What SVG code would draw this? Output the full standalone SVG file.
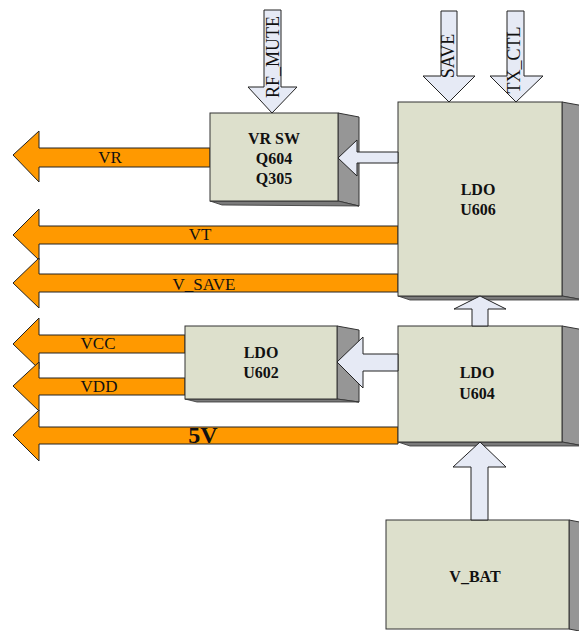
<svg xmlns="http://www.w3.org/2000/svg" width="579" height="631" viewBox="0 0 579 631">
<style>
.front{fill:#DDE0CC;stroke:#333;stroke-width:1}
.side{fill:#969696;stroke:#333;stroke-width:1}
.bot{fill:#7a7a7a;stroke:#333;stroke-width:0.8}
.out{fill:#FF9900;stroke:#222;stroke-width:1}
.ctl{fill:#E6EAF5;stroke:#222;stroke-width:1}
.lb{font-family:"Liberation Serif","Times New Roman",serif;font-weight:bold;font-size:16px;fill:#111;text-anchor:middle}
.sig{font-family:"Liberation Serif","Times New Roman",serif;font-size:17px;fill:#111;text-anchor:middle}
.rot{font-family:"Liberation Serif","Times New Roman",serif;font-size:18px;fill:#111;text-anchor:middle}
</style>
<rect width="579" height="631" fill="#fff"/>
<g id="outputs">
<polygon class="out" points="13,155 39,131 39,148 210,148 210,167 39,167 39,182"/>
<polygon class="out" points="13,235 39,209 39,226 398,226 398,244 39,244 39,260"/>
<polygon class="out" points="13,283 39,258 39,274 398,274 398,292 39,292 39,308"/>
<polygon class="out" points="13,344 39,318 39,335 185,335 185,353 39,353 39,369"/>
<polygon class="out" points="13,386 39,362 39,378 185,378 185,395 39,395 39,411"/>
<polygon class="out" points="13,435 39,410 39,427 398,427 398,444 39,444 39,461"/>
<text class="sig" x="110" y="163">VR</text>
<text class="sig" x="200" y="240">VT</text>
<text class="sig" x="204" y="290">V_SAVE</text>
<text class="sig" x="98" y="349">VCC</text>
<text class="sig" x="99" y="392">VDD</text>
<text class="lb" x="203" y="443" style="font-size:24px">5V</text>
</g>
<g id="vrsw">
<polygon class="side" points="338,113 359,117 359,206 338,201"/>
<polygon class="bot" points="210,201 338,201 359,206 222,205"/>
<rect class="front" x="210" y="113" width="128" height="88"/>
<text class="lb" x="274" y="144">VR SW</text>
<text class="lb" x="274" y="164">Q604</text>
<text class="lb" x="274" y="184">Q305</text>
</g>
<g id="u606">
<polygon class="side" points="562,102 584,106 584,300 562,296"/>
<polygon class="bot" points="398,296 562,296 584,300 410,300"/>
<rect class="front" x="398" y="102" width="164" height="194"/>
<text class="lb" x="478" y="195">LDO</text>
<text class="lb" x="478" y="215">U606</text>
</g>
<g id="u602">
<polygon class="side" points="337,326 359,330 359,402 337,399"/>
<polygon class="bot" points="185,399 337,399 359,402 197,402"/>
<rect class="front" x="185" y="326" width="152" height="73"/>
<text class="lb" x="261" y="358">LDO</text>
<text class="lb" x="261" y="378">U602</text>
</g>
<g id="u604">
<polygon class="side" points="562,326 584,330 584,446 562,442"/>
<polygon class="bot" points="398,442 562,442 584,446 410,446"/>
<rect class="front" x="398" y="326" width="164" height="116"/>
<text class="lb" x="477" y="378">LDO</text>
<text class="lb" x="477" y="399">U604</text>
</g>
<g id="vbat">
<polygon class="side" points="569,520 590,524 590,633 569,629"/>
<rect class="front" x="386" y="520" width="183" height="109"/>
<text class="lb" x="475" y="582">V_BAT</text>
</g>
<g id="connectors">
<polygon class="ctl" points="338,158 357,140 357,152 398,152 398,163 357,163 357,176"/>
<polygon class="ctl" points="337,362 363,337 363,354 398,354 398,371 363,371 363,388"/>
<polygon class="ctl" points="480,296 506,309 488,309 488,326 472,326 472,309 454,309"/>
<polygon class="ctl" points="480,442 506,467 488,467 488,520 471,520 471,467 453,467"/>
<polygon class="ctl" points="264,10 281,10 281,87 297,87 272,113 248,87 264,87"/>
<polygon class="ctl" points="441,11 457,11 457,76 475,76 449,102 423,76 441,76"/>
<polygon class="ctl" points="507,11 524,11 524,76 543,76 516,102 490,76 507,76"/>
<text class="rot" transform="translate(279,57) rotate(-90)">RF_MUTE</text>
<text class="rot" transform="translate(454,56) rotate(-90)">SAVE</text>
<text class="rot" transform="translate(520,60) rotate(-90)">TX_CTL</text>
</g>
</svg>
